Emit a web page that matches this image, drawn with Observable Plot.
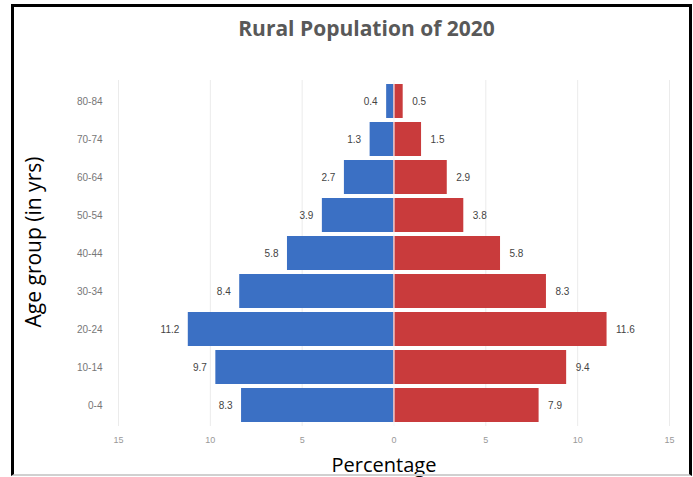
<!DOCTYPE html>
<html>
<head>
<meta charset="utf-8">
<script src="https://cdn.jsdelivr.net/npm/d3@7"></script>
<script src="https://cdn.jsdelivr.net/npm/@observablehq/plot@0.6"></script>
<style>
  html, body { margin: 0; padding: 0; background: #fff; }
  #wrap { position: relative; width: 693px; height: 477px; overflow: hidden; background: #fff; }
  #wrap svg { position: absolute; left: 0; top: 0; }
  .lbl { position: absolute; white-space: nowrap; }
  #title { left: 0; width: 733px; top: 14px; text-align: center; font: bold 21px "Open Sans", sans-serif; color: #595959; }
  #xlab { left: 0; width: 768px; top: 451px; text-align: center; font: 20px "Open Sans", sans-serif; color: #000; }
  #ylab { left: 33px; top: 242px; transform: translate(-50%, -50%) rotate(-90deg); font: 21px "Open Sans", sans-serif; color: #000; }
  #border { position: absolute; left: 11px; top: 4px; width: 675px; height: 467px; border: 3px solid #000; border-bottom: 2px solid #d0d0d0; pointer-events: none; }
</style>
</head>
<body>
<div id="wrap">
  <div id="chart"></div>
  <div id="title" class="lbl">Rural Population of 2020</div>
  <div id="xlab" class="lbl">Percentage</div>
  <div id="ylab" class="lbl">Age group (in yrs)</div>
  <div id="border"></div>
</div>
<script>
const ages = ["0-4", "10-14", "20-24", "30-34", "40-44", "50-54", "60-64", "70-74", "80-84"];
const leftValues = [8.3, 9.7, 11.2, 8.4, 5.8, 3.9, 2.7, 1.3, 0.4];
const rightValues = [7.9, 9.4, 11.6, 8.3, 5.8, 3.8, 2.9, 1.5, 0.5];
const xTicks = [-15, -10, -5, 0, 5, 10, 15];

const data = ages.flatMap((age, i) => [
  {age, side: "left", v: -leftValues[i], label: leftValues[i]},
  {age, side: "right", v: rightValues[i], label: rightValues[i]}
]);
const leftData = data.filter(d => d.side === "left");
const rightData = data.filter(d => d.side === "right");

const chart = Plot.plot({
  width: 693,
  height: 477,
  marginLeft: 118,
  marginRight: 24,
  marginTop: 80,
  marginBottom: 51,
  style: {fontFamily: "'Liberation Sans', sans-serif", background: "transparent"},
  x: {domain: [-15, 15], ticks: xTicks, tickFormat: d => String(Math.abs(d))},
  y: {domain: ages.slice().reverse(), padding: 0.1},
  color: {domain: ["left", "right"], range: ["#3b70c4", "#c93b3c"]},
  marks: [
    Plot.ruleX(xTicks, {stroke: "#ebebeb", strokeWidth: 1}),
    Plot.barX(data, {x: "v", y: "age", fill: "side"}),
    Plot.ruleX([0], {stroke: "#fff", strokeWidth: 1}),
    Plot.text(leftData, {x: "v", y: "age", text: d => d.label.toFixed(1), textAnchor: "end", dx: -9, fontSize: 10, fill: "#444"}),
    Plot.text(rightData, {x: "v", y: "age", text: d => d.label.toFixed(1), textAnchor: "start", dx: 9, fontSize: 10, fill: "#444"}),
    Plot.axisX({ticks: xTicks, tickFormat: d => String(Math.abs(d)), tickSize: 0, tickPadding: 10, fontSize: 9, color: "#999", label: null}),
    Plot.axisY({tickSize: 0, tickPadding: 16, fontSize: 10, color: "#777", label: null})
  ]
});
document.getElementById("chart").appendChild(chart);
</script>
</body>
</html>
